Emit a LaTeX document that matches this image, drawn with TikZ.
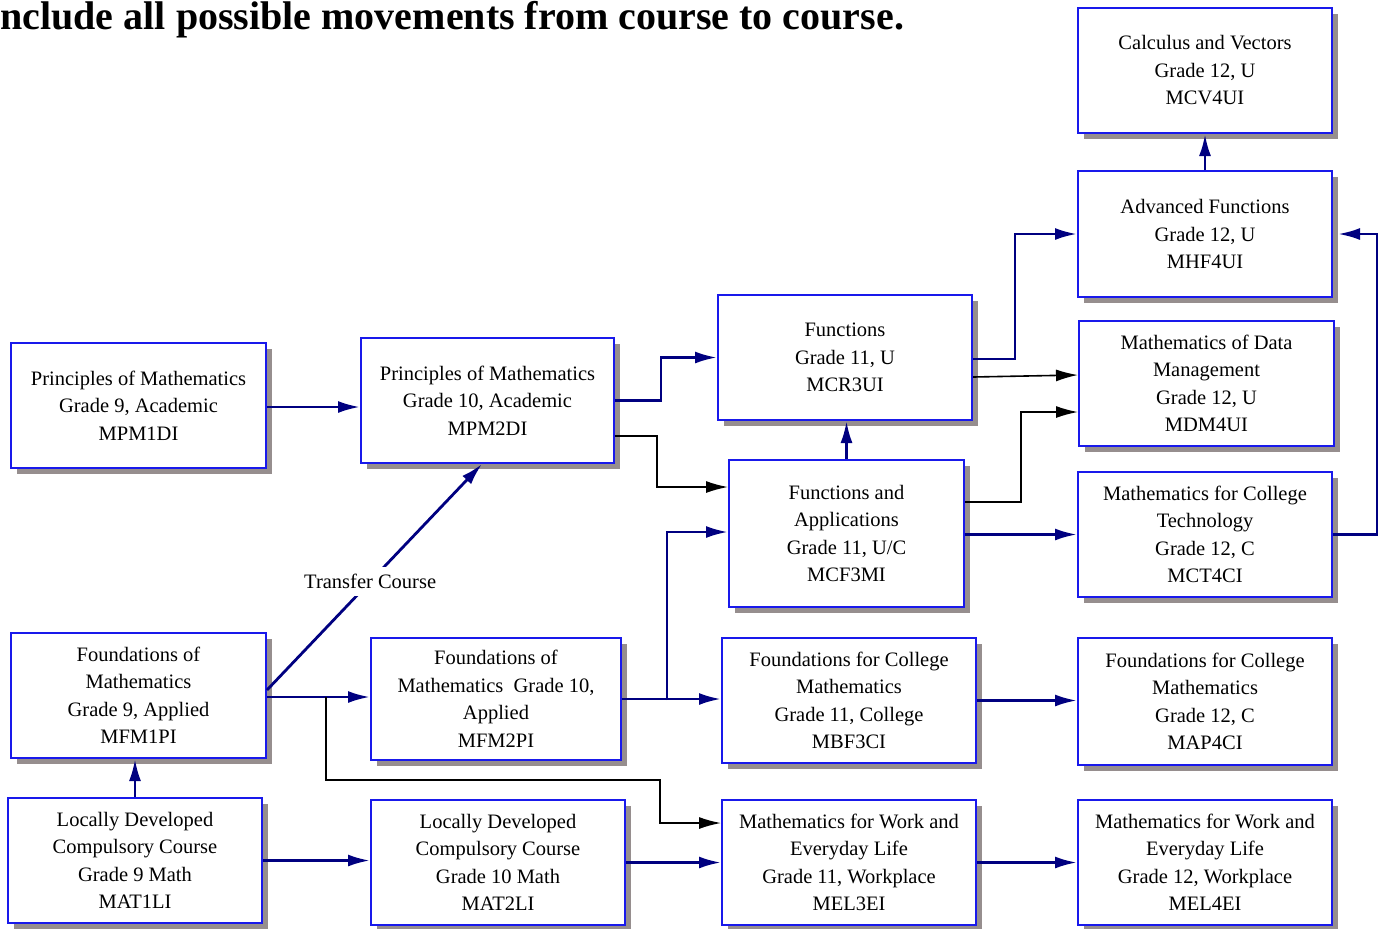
\documentclass[tikz,border=0pt]{standalone}
\usepackage{fontspec}
\setmainfont{Liberation Serif}
\usetikzlibrary{arrows.meta,shadows}

\definecolor{boxblue}{RGB}{25,25,235}
\definecolor{shadowgray}{RGB}{150,142,142}
\definecolor{linknavy}{RGB}{0,0,128}

\tikzset{
  course/.style={draw=boxblue, line width=1pt, fill=white, align=center, inner sep=2pt,
    font=\fontsize{10.25}{13.75}\selectfont,
    drop shadow={shadow xshift=2.8pt, shadow yshift=-2.8pt, fill=shadowgray, opacity=1}},
  nav/.style={draw=linknavy, line width=1.4pt, -{Latex[length=11pt,width=6pt]}},
  blk/.style={draw=black, line width=0.8pt, -{Latex[length=11pt,width=6pt]}},
  tag/.style={fill=white, inner xsep=1pt, inner ysep=3.5pt, font=\fontsize{10.25}{13.75}\selectfont},
}

% name, centre x, centre y, width, height, text (all in pixel units)
\newcommand\coursebox[6]{%
  \node[course, minimum width=#4*0.5pt, minimum height=#5*0.5pt] (#1) at (#2,#3) {#6};}

\begin{document}
\begin{tikzpicture}[x=0.5pt, y=-0.5pt]
\useasboundingbox (0,0) rectangle (1380,928);

\node[anchor=base west, inner sep=0pt, font=\fontsize{20}{24}\selectfont\bfseries] (title) at (0,29)
  {nclude all possible movements from course to course.};

% grade 9
\coursebox{MPM1DI}{138.5}{405.5}{255}{125}{Principles of Mathematics\\Grade 9, Academic\\MPM1DI}
\coursebox{MFM1PI}{138.5}{695.5}{255}{125}{Foundations of\\Mathematics\\Grade 9, Applied\\MFM1PI}
\coursebox{MAT1LI}{135}{860.5}{254}{125}{Locally Developed\\Compulsory Course\\Grade 9 Math\\MAT1LI}

% grade 10
\coursebox{MPM2DI}{487.5}{400.5}{253}{125}{Principles of Mathematics\\Grade 10, Academic\\MPM2DI}
\coursebox{MFM2PI}{496}{699}{250}{122}{Foundations of\\Mathematics~ Grade 10,\\Applied\\MFM2PI}
\coursebox{MAT2LI}{498}{862.5}{254}{125}{Locally Developed\\Compulsory Course\\Grade 10 Math\\MAT2LI}

% grade 11
\coursebox{MCR3UI}{845}{357.5}{254}{125}{Functions\\Grade 11, U\\MCR3UI}
\coursebox{MCF3MI}{846.5}{533.5}{235}{147}{Functions and\\Applications\\Grade 11, U/C\\MCF3MI}
\coursebox{MBF3CI}{849}{700.5}{254}{125}{Foundations for College\\Mathematics\\Grade 11, College\\MBF3CI}
\coursebox{MEL3EI}{849}{862.5}{254}{125}{Mathematics for Work and\\Everyday Life\\Grade 11, Workplace\\MEL3EI}

% grade 12
\coursebox{MCV4UI}{1205}{70.5}{254}{125}{Calculus and Vectors\\Grade 12, U\\MCV4UI}
\coursebox{MHF4UI}{1205}{234}{254}{126}{Advanced Functions\\Grade 12, U\\MHF4UI}
\coursebox{MDM4UI}{1206.5}{383.5}{255}{125}{Mathematics of Data\\Management\\Grade 12, U\\MDM4UI}
\coursebox{MCT4CI}{1205}{534.5}{254}{125}{Mathematics for College\\Technology\\Grade 12, C\\MCT4CI}
\coursebox{MAP4CI}{1205}{701.5}{254}{127}{Foundations for College\\Mathematics\\Grade 12, C\\MAP4CI}
\coursebox{MEL4EI}{1205}{862.5}{254}{125}{Mathematics for Work and\\Everyday Life\\Grade 12, Workplace\\MEL4EI}

% routing points
\coordinate (r407) at (0,407);
\coordinate (b3a) at (657,436);
\coordinate (b3b) at (657,487);
\coordinate (c4) at (1015,359);
\coordinate (d5a) at (0,377);
\coordinate (d5b) at (0,375);
\coordinate (e6a) at (1021,502);
\coordinate (e6b) at (1021,412);
\coordinate (t11a) at (0,690);
\coordinate (t11b) at (482,0);
\coordinate (r697) at (0,697);
\coordinate (j14) at (667,700);
\coordinate (r532) at (0,532);
\coordinate (k15a) at (326,697);
\coordinate (k15b) at (326,780);
\coordinate (k15c) at (660,780);
\coordinate (k15d) at (660,823);

% connectors
\draw[nav] (MPM1DI.east |- r407) -- (MPM2DI.west |- r407);
\draw[nav] (MPM2DI.east) -- ++(46,0) |- (MCR3UI.west);
\draw[blk] (MPM2DI.east |- b3a) -- (b3a) -- (b3b) -- (MCF3MI.west |- b3b);
\draw[nav] (MCR3UI.east |- c4) -- (c4) |- (MHF4UI.west);
\draw[blk] (MCR3UI.east |- d5a) -- (MDM4UI.west |- d5b);
\draw[blk] (MCF3MI.east |- e6a) -- (e6a) -- (e6b) -- (MDM4UI.west |- e6b);
\draw[nav] (MCF3MI.north) -- (MCR3UI.south -| MCF3MI.north);
\draw[nav] (MCF3MI.east |- MCT4CI.west) -- (MCT4CI.west);
\draw[nav, shorten >=2.5pt] (MCT4CI.east) -- ++(44,0) |- (MHF4UI.east);
\draw[nav] (MHF4UI.north) -- (MCV4UI.south);
\draw[nav] (MFM1PI.east |- t11a) -- node[tag, pos=0.48] (transfer) {Transfer Course} (MPM2DI.south -| t11b);
\draw[nav] (MFM1PI.east |- r697) -- (MFM2PI.west |- r697);
\draw[nav] (MFM2PI.east) -- (MBF3CI.west |- MFM2PI.east);
\draw[nav] (j14) |- (MCF3MI.west |- r532);
\draw[blk] (k15a) -- (k15b) -- (k15c) -- (k15d) -- (MEL3EI.west |- k15d);
\draw[nav] (MAT1LI.north) -- (MFM1PI.south -| MAT1LI.north);
\draw[nav] (MAT1LI.east) -- (MAT2LI.west |- MAT1LI.east);
\draw[nav] (MAT2LI.east) -- (MEL3EI.west |- MAT2LI.east);
\draw[nav] (MBF3CI.east) -- (MAP4CI.west |- MBF3CI.east);
\draw[nav] (MEL3EI.east) -- (MEL4EI.west);
\end{tikzpicture}
\end{document}
